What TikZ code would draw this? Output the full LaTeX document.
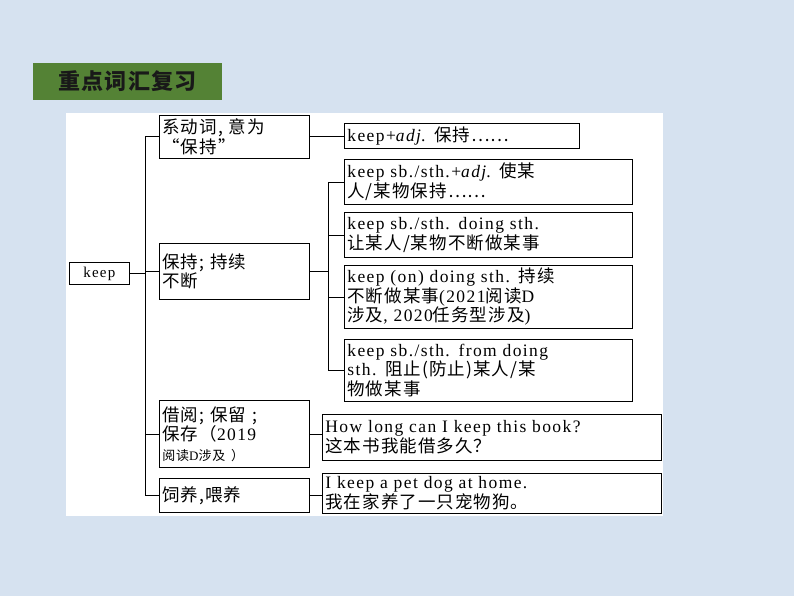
\documentclass[tikz,border=0pt]{standalone}
\usepackage{fontspec}
\setmainfont{Liberation Serif}[LetterSpace=8]
\newfontfamily\cjk{Noto Sans CJK SC}[LetterSpace=6]
\newcommand{\zh}[1]{{\cjk #1}}
\definecolor{slidebg}{RGB}{214,226,240}
\definecolor{titlegreen}{RGB}{84,130,53}
\tikzset{
  box/.style={draw, thick, anchor=north west, align=left, inner sep=3pt,
    font=\fontsize{17.5}{19.5}\selectfont},
  link/.style={thick}
}
\begin{document}
\begin{tikzpicture}[x=1pt,y=-1pt]
  \useasboundingbox (0,0) rectangle (794,596);
  % Background and panel
  \fill[slidebg] (0,0) rectangle (794,596);
  \fill[white] (66,113) rectangle (663,516);
  \fill[titlegreen] (33,63) rectangle (222,100);
  \node[font=\cjk\fontsize{22}{24}\selectfont\bfseries, text=black!90] (title) at (127.5,81.5) {重点词汇复习};

  % Root and first-level boxes
  \node[box, minimum width=60, minimum height=22, inner sep=2pt, font=\fontsize{15}{17}\selectfont] (keep) at (69,262) {keep};
  \node[box, text width=144, minimum height=43, inner ysep=1pt] (b1) at (159,115) {\zh{系动词, 意为}\\\zh{“保持”}};
  \node[box, text width=144, minimum height=56] (b2) at (159,243) {\zh{保持; 持续}\\\zh{不断}};
  \node[box, text width=144, minimum height=67, inner ysep=1pt] (b3) at (159,400) {\zh{借阅; 保留 ;}\\\zh{保存（}2019\\{\fontsize{13}{15}\selectfont\zh{阅读}D\zh{涉及 ）}}};
  \node[box, text width=144, minimum height=34] (b4) at (159,478) {\zh{饲养,喂养}};

  % Second-level boxes
  \node[box, text width=229, minimum height=25, inner ysep=2pt] (r1) at (344,123) {keep+\textit{adj}. \zh{保持……}};
  \node[box, text width=282, minimum height=45, inner ysep=2pt] (r2) at (344,159) {keep sb./sth.+\textit{adj}. \zh{使某}\\\zh{人/某物保持……}};
  \node[box, text width=282, minimum height=45, inner ysep=2pt] (r3) at (344,212) {keep sb./sth. doing sth.\\\zh{让某人/某物不断做某事}};
  \node[box, text width=282, minimum height=63, inner ysep=2pt] (r4) at (344,265) {keep (on) doing sth. \zh{持续}\\\zh{不断做某事}(2021\zh{阅读}D\\\zh{涉及}, 2020\zh{任务型涉及})};
  \node[box, text width=282, minimum height=62, inner ysep=2pt] (r5) at (344,339) {keep sb./sth. from doing\\sth. \zh{阻止(防止)某人/某}\\\zh{物做某事}};
  \node[box, text width=333, minimum height=46, inner ysep=2pt] (r6) at (322,414) {How long can I keep this book?\\\zh{这本书我能借多久？}};
  \node[box, text width=333, minimum height=40, inner ysep=2pt] (r7) at (322,473) {I keep a pet dog at home.\\\zh{我在家养了一只宠物狗。}};

  % Connectors
  \coordinate (s1) at (145,0);
  \coordinate (s2) at (328,0);
  \draw[link] (keep.east) -- (keep.east -| s1);
  \foreach \b in {b1,b2,b3,b4}
    \draw[link] (\b.west -| s1) -- (\b.west);
  \draw[link] (b1.west -| s1) -- (b4.west -| s1);
  \draw[link] (b1.east) -- (b1.east -| r1.west);
  \draw[link] (b2.east) -- (b2.east -| s2);
  \foreach \r in {r2,r3,r4,r5}
    \draw[link] (\r.west -| s2) -- (\r.west);
  \draw[link] (r2.west -| s2) -- (r5.west -| s2);
  \draw[link] (b3.east) -- (b3.east -| r6.west);
  \draw[link] (b4.east) -- (b4.east -| r7.west);
\end{tikzpicture}
\end{document}
